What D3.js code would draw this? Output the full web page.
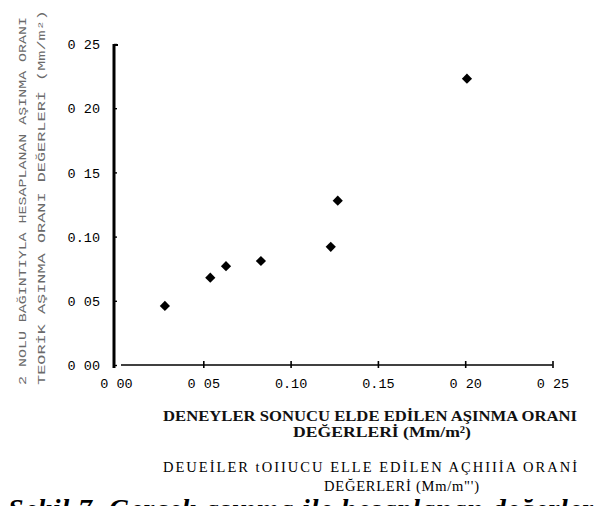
<!DOCTYPE html>
<html>
<head>
<meta charset="utf-8">
<script src="https://cdn.jsdelivr.net/npm/d3@7/dist/d3.min.js"></script>
<style>
  html, body { margin: 0; padding: 0; background: #fff; }
  svg { display: block; }
</style>
</head>
<body>
<div id="chart"></div>
<script>
// Measured wear rate (x) against calculated wear rate (y), Mm/m²
const wearMeasured   = [0.028, 0.054, 0.063, 0.083, 0.123, 0.127, 0.201];
const wearCalculated = [0.046, 0.068, 0.077, 0.081, 0.092, 0.128, 0.223];

const xTickValues = [0, 0.05, 0.10, 0.15, 0.20, 0.25];
const xTickLabels = ["0 00", "0 05", "0.10", "0.15", "0 20", "0 25"];
const yTickValues = [0, 0.05, 0.10, 0.15, 0.20, 0.25];
const yTickLabels = ["0 00", "0 05", "0.10", "0 15", "0 20", "0 25"];

const yTitleLines = [
  "2 NOLU BAĞINTIYLA HESAPLANAN AŞINMA ORANI",
  "TEORİK AŞINMA ORANI DEĞERLERİ (Mm/m²)"
];
const xTitleLines = [
  "DENEYLER SONUCU ELDE EDİLEN AŞINMA ORANI",
  "DEĞERLERİ (Mm/m²)"
];
const ocrLines = [
  "DEUEİLER tOIIUCU ELLE EDİLEN AÇHIIİA ORANİ",
  "DEĞERLERİ   (Mm/m\"')"
];
const figureCaption = "Şekil 7. Gerçek aşınma ile hesaplanan değerler";

const W = 598, H = 506;
const svg = d3.select("#chart").append("svg")
  .attr("width", W).attr("height", H)
  .attr("viewBox", `0 0 ${W} ${H}`);

const x = d3.scaleLinear().domain([0, 0.25]).range([116, 552.5]);
const y = d3.scaleLinear().domain([0, 0.25]).range([365, 44]);

const monoFont = "'Liberation Mono', 'DejaVu Sans Mono', monospace";
const serifFont = "'Liberation Serif', 'DejaVu Serif', serif";

// x axis: thin baseline with small crossing ticks
const xAxisG = svg.append("g")
  .attr("transform", `translate(0,${y(0)})`)
  .call(d3.axisBottom(x).tickValues(xTickValues)
    .tickFormat((d, i) => xTickLabels[i]).tickSize(3).tickPadding(0));
xAxisG.select(".domain").remove();
xAxisG.selectAll(".tick line")
  .attr("y1", -4).attr("y2", 3)
  .attr("stroke", "#000").attr("stroke-width", 1.6);
xAxisG.selectAll(".tick").filter(d => d === 0).select("line").remove();
xAxisG.selectAll(".tick text")
  .attr("y", 23).attr("dy", null)
  .attr("font-family", monoFont).attr("font-size", 13.5)
  .attr("fill", "#000");
xAxisG.append("line")
  .attr("x1", x(0) + 5).attr("x2", x(0.25))
  .attr("y1", 0).attr("y2", 0)
  .attr("stroke", "#000").attr("stroke-width", 1.3);

// y axis: heavy vertical rule, tiny inward ticks
const yAxisG = svg.append("g")
  .attr("transform", `translate(${x(0) - 2},0)`)
  .call(d3.axisLeft(y).tickValues(yTickValues)
    .tickFormat((d, i) => yTickLabels[i]).tickSize(-3).tickPadding(0));
yAxisG.select(".domain").remove();
yAxisG.selectAll(".tick line")
  .attr("stroke", "#000").attr("stroke-width", 1.4);
yAxisG.selectAll(".tick text")
  .attr("x", -14).attr("dy", "0.35em")
  .attr("text-anchor", "end")
  .attr("font-family", monoFont).attr("font-size", 13.5)
  .attr("fill", "#000");
yAxisG.append("line")
  .attr("x1", 0).attr("x2", 0)
  .attr("y1", y(0) + 3).attr("y2", y(0.25))
  .attr("stroke", "#000").attr("stroke-width", 3);
yAxisG.append("line")
  .attr("x1", 0).attr("x2", 4)
  .attr("y1", y(0.25) + 1).attr("y2", y(0.25) + 1)
  .attr("stroke", "#000").attr("stroke-width", 2);

// data points as filled diamonds
const diamond = d3.symbol().type(d3.symbolSquare).size(52);
svg.append("g").selectAll("path")
  .data(wearMeasured.map((v, i) => [v, wearCalculated[i]]))
  .join("path")
  .attr("d", diamond)
  .attr("transform", d => `translate(${x(d[0])},${y(d[1])}) rotate(45)`)
  .attr("fill", "#000");

// rotated y-axis title (two lines, faint print)
const yTitle = svg.append("g").attr("fill", "#6a6a6a")
  .attr("font-family", monoFont).attr("font-size", 10);
yTitle.selectAll("text").data(yTitleLines).join("text")
  .attr("transform", (d, i) => `translate(${26 + i * 19},385) rotate(-90)`)
  .attr("textLength", (d, i) => i === 0 ? 368 : 375)
  .attr("lengthAdjust", "spacingAndGlyphs")
  .text(d => d);

// bold axis title under the x axis
svg.append("g").attr("font-family", serifFont)
  .attr("font-weight", "bold").attr("font-size", 15.5).attr("fill", "#111")
  .selectAll("text").data(xTitleLines).join("text")
  .attr("x", (d, i) => i === 0 ? 163 : 293)
  .attr("y", (d, i) => i === 0 ? 421 : 437)
  .attr("textLength", (d, i) => i === 0 ? 414 : 178)
  .attr("lengthAdjust", "spacingAndGlyphs")
  .text(d => d);

// plain text rendition of the axis title
svg.append("g").attr("font-family", serifFont)
  .attr("font-size", 14.5).attr("fill", "#000")
  .selectAll("text").data(ocrLines).join("text")
  .attr("x", (d, i) => i === 0 ? 163 : 324)
  .attr("y", (d, i) => i === 0 ? 472 : 491)
  .attr("textLength", (d, i) => i === 0 ? 414 : 155)
  .attr("lengthAdjust", "spacing")
  .text(d => d);

// figure caption, running off the bottom edge
svg.append("text")
  .attr("x", 8).attr("y", 518)
  .attr("font-family", serifFont).attr("font-weight", "bold")
  .attr("font-style", "italic").attr("font-size", 28)
  .attr("textLength", 585).attr("lengthAdjust", "spacing")
  .attr("fill", "#000")
  .text(figureCaption);
</script>
</body>
</html>
